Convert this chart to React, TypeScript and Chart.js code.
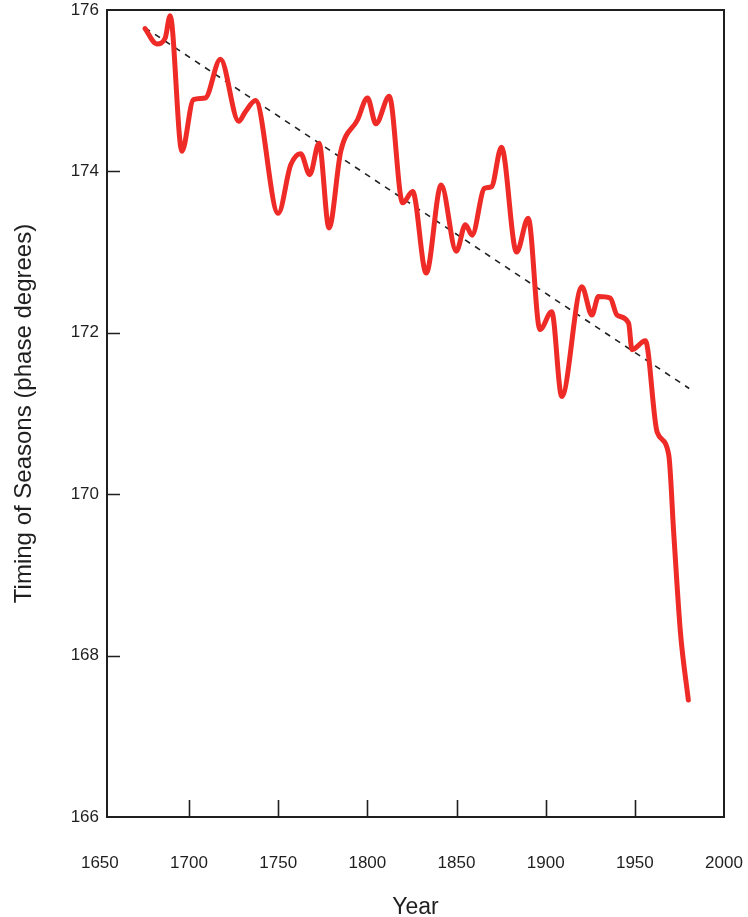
import React, { useEffect, useRef } from 'react';
import { Chart, registerables } from 'chart.js';

Chart.register(...registerables);

const years = [
  1675.3, 1681.9, 1686.6, 1689.4, 1696.0, 1702.5, 1709.1, 1717.6, 1727.9, 1731.6,
  1737.3, 1750.0, 1757.0, 1762.6, 1767.7, 1772.9, 1778.5, 1785.1, 1794.5, 1800.1,
  1804.8, 1812.3, 1819.8, 1825.4, 1833.0, 1841.4, 1849.9, 1855.0, 1858.7, 1865.7,
  1869.6, 1875.2, 1883.7, 1890.2, 1896.8, 1903.4, 1909.0, 1920.3, 1925.9, 1929.6,
  1936.2, 1940.0, 1946.5, 1948.4, 1955.9, 1962.5, 1969.0, 1971.8, 1975.6, 1980.0,
];
const phase = [
  175.77, 175.58, 175.65, 175.93, 174.25, 174.89, 174.91, 175.39, 174.62, 174.74,
  174.88, 173.48, 174.08, 174.22, 173.96, 174.35, 173.30, 174.25, 174.64, 174.91,
  174.59, 174.93, 173.61, 173.75, 172.74, 173.83, 173.01, 173.34, 173.21, 173.79,
  173.81, 174.30, 173.00, 173.42, 172.04, 172.26, 171.21, 172.57, 172.22, 172.45,
  172.43, 172.22, 172.12, 171.79, 171.90, 170.77, 170.49, 169.52, 168.28, 167.45,
];

// Linear trend (dashed)
const trendYears = [1675.3, 1980.5];
const trendPhase = [175.78, 171.31];

const xTicks = [1650, 1700, 1750, 1800, 1850, 1900, 1950, 2000];
const yTicks = [166, 168, 170, 172, 174, 176];

const X_MIN = 1654;
const X_MAX = 2000;
const Y_MIN = 166;
const Y_MAX = 176;

const FONT = '"Liberation Sans", Arial, Helvetica, sans-serif';
const INK = '#1f1f1f';

const framePlugin = {
  id: 'frameTicks',
  afterDatasetsDraw(chart: any) {
    const { ctx, chartArea, scales } = chart;
    const { left, right, top, bottom } = chartArea;
    const x = scales.x;
    const y = scales.y;
    ctx.save();
    ctx.strokeStyle = INK;
    ctx.lineWidth = 2;
    ctx.strokeRect(left, top, right - left, bottom - top);
    ctx.lineWidth = 1.6;
    ctx.beginPath();
    xTicks.forEach((v) => {
      if (v > x.min && v < x.max) {
        const px = Math.round(x.getPixelForValue(v)) + 0.5;
        ctx.moveTo(px, bottom);
        ctx.lineTo(px, bottom - 17);
      }
    });
    yTicks.forEach((v) => {
      if (v > y.min && v < y.max) {
        const py = Math.round(y.getPixelForValue(v)) + 0.5;
        ctx.moveTo(left, py);
        ctx.lineTo(left + 13, py);
      }
    });
    ctx.stroke();
    ctx.restore();
  },
};

export default function App() {
  const canvasRef = useRef<HTMLCanvasElement | null>(null);

  useEffect(() => {
    document.body.style.margin = '0';
    const canvas = canvasRef.current;
    if (!canvas) return;

    const chart = new Chart(canvas, {
      type: 'line',
      data: {
        datasets: [
          {
            label: 'Timing of seasons',
            data: years.map((yr, i) => ({ x: yr, y: phase[i] })),
            borderColor: '#ee2b27',
            borderWidth: 5,
            pointRadius: 0,
            fill: false,
            cubicInterpolationMode: 'monotone',
            borderCapStyle: 'round',
            borderJoinStyle: 'round',
          },
          {
            label: 'Trend',
            data: trendYears.map((yr, i) => ({ x: yr, y: trendPhase[i] })),
            borderColor: '#222222',
            borderWidth: 1.6,
            borderDash: [6, 6],
            pointRadius: 0,
            fill: false,
            tension: 0,
          },
        ],
      },
      options: {
        responsive: false,
        animation: false,
        events: [],
        layout: { padding: { top: 10, right: 24, left: 0, bottom: 0 } },
        plugins: {
          legend: { display: false },
          tooltip: { enabled: false },
          title: { display: false },
        },
        scales: {
          x: {
            type: 'linear',
            min: X_MIN,
            max: X_MAX,
            afterBuildTicks: (s: any) => {
              s.ticks = xTicks.map((v) => ({ value: v }));
            },
            afterFit: (s: any) => {
              s.height = 100;
              s.paddingLeft = 0;
              s.paddingRight = 0;
            },
            grid: { display: false, drawTicks: false },
            border: { display: false },
            ticks: {
              autoSkip: false,
              maxRotation: 0,
              padding: 36,
              color: INK,
              font: { family: FONT, size: 17 },
              callback: (v: any) => String(v),
            },
            title: {
              display: true,
              text: 'Year',
              color: INK,
              font: { family: FONT, size: 23, lineHeight: 0.85 },
              padding: { top: 0, bottom: 0 },
            },
          },
          y: {
            type: 'linear',
            min: Y_MIN,
            max: Y_MAX,
            afterBuildTicks: (s: any) => {
              s.ticks = yTicks.map((v) => ({ value: v }));
            },
            afterFit: (s: any) => {
              s.width = 107;
              s.paddingTop = 0;
              s.paddingBottom = 0;
            },
            grid: { display: false, drawTicks: false },
            border: { display: false },
            ticks: {
              padding: 8,
              color: INK,
              font: { family: FONT, size: 17 },
              callback: (v: any) => String(v),
            },
            title: {
              display: true,
              text: 'Timing of Seasons (phase degrees)',
              color: INK,
              font: { family: FONT, size: 24, lineHeight: 1.2 },
              padding: { top: 10, bottom: 0 },
            },
          },
        },
      },
      plugins: [framePlugin],
    } as any);

    return () => {
      chart.destroy();
    };
  }, []);

  return (
    <div style={{ width: 748, height: 917, background: '#ffffff' }}>
      <canvas ref={canvasRef} width={748} height={917} style={{ display: 'block' }} />
    </div>
  );
}
